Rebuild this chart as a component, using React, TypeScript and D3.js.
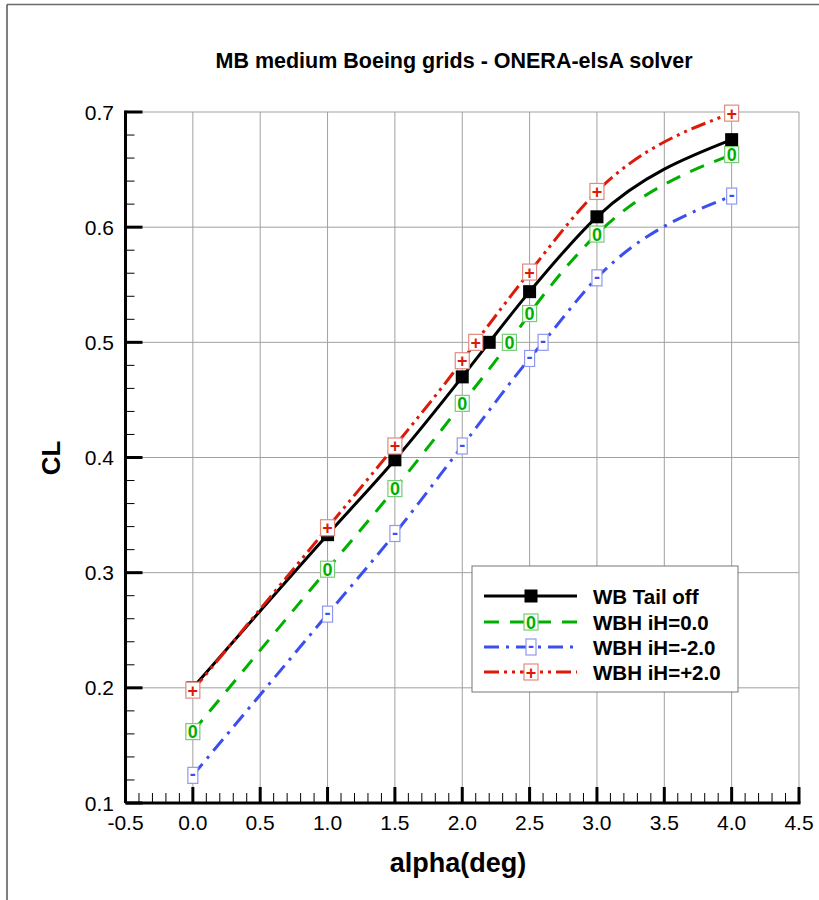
import React from "react";
import * as d3 from "d3";

const alphaWB = [0, 1, 1.5, 2, 2.2, 2.5, 3, 4];
const clWB = [0.2, 0.333, 0.398, 0.47, 0.5, 0.544, 0.609, 0.676];
const alphaH0 = [0, 1, 1.5, 2, 2.35, 2.5, 3, 4];
const clH0 = [0.162, 0.303, 0.373, 0.447, 0.5, 0.525, 0.594, 0.663];
const alphaHm2 = [0, 1, 1.5, 2, 2.5, 2.6, 3, 4];
const clHm2 = [0.124, 0.264, 0.334, 0.41, 0.486, 0.5, 0.556, 0.627];
const alphaHp2 = [0, 1, 1.5, 2, 2.1, 2.5, 3, 4];
const clHp2 = [0.198, 0.339, 0.41, 0.484, 0.5, 0.561, 0.631, 0.699];

const seriesNames = ["WB Tail off", "WBH iH=0.0", "WBH iH=-2.0", "WBH iH=+2.0"];
const xTicks = [-0.5, 0, 0.5, 1, 1.5, 2, 2.5, 3, 3.5, 4, 4.5];
const yTicks = [0.1, 0.2, 0.3, 0.4, 0.5, 0.6, 0.7];

const title = "MB medium Boeing grids - ONERA-elsA solver";
const xLabel = "alpha(deg)";
const yLabel = "CL";

const FONT = "'Liberation Sans', Arial, Helvetica, sans-serif";

type Style = {
  color: string;
  dash: string | null;
  marker: "filled" | string;
  boxColor: string;
  boxW: number;
};

const styles: Style[] = [
  { color: "#000000", dash: null, marker: "filled", boxColor: "#000", boxW: 12 },
  { color: "#00b000", dash: "15,11", marker: "0", boxColor: "#77cc77", boxW: 14 },
  { color: "#3b4ff0", dash: "15,7,3,7", marker: "-", boxColor: "#8f99f0", boxW: 10 },
  { color: "#dd1a0a", dash: "15,5,3,5,3,5", marker: "+", boxColor: "#e08a80", boxW: 14 },
];

const series = [
  { a: alphaWB, c: clWB },
  { a: alphaH0, c: clH0 },
  { a: alphaHm2, c: clHm2 },
  { a: alphaHp2, c: clHp2 },
];

function Marker({ x, y, s }: { x: number; y: number; s: Style }) {
  if (s.marker === "filled") {
    return <rect x={x - 6.5} y={y - 6.5} width={13} height={13} fill="#000" />;
  }
  const w = s.boxW;
  const h = 16;
  return (
    <g>
      <rect x={x - w / 2} y={y - h / 2} width={w} height={h} fill="#fff" stroke={s.boxColor} strokeWidth={1.2} />
      <text
        x={x}
        y={y + (s.marker === "-" ? 5 : 6.5)}
        textAnchor="middle"
        fontFamily={FONT}
        fontWeight="bold"
        fontSize={18}
        fill={s.color}
      >
        {s.marker}
      </text>
    </g>
  );
}

export default function App() {
  const W = 819;
  const H = 900;
  const x = d3.scaleLinear().domain([-0.5, 4.5]).range([125.5, 799]);
  const y = d3.scaleLinear().domain([0.1, 0.7]).range([803, 112]);

  const xMinor = d3.range(-0.5, 4.5001, 0.1).map((v) => +v.toFixed(2));
  const yMinor = d3.range(0.1, 0.7001, 0.02).map((v) => +v.toFixed(2));

  const line = d3
    .line<[number, number]>()
    .x((d) => x(d[0]))
    .y((d) => y(d[1]))
    .curve(d3.curveMonotoneX);

  const legX = 472;
  const legY = 566;
  const legRows = [596, 622, 647, 672];

  return (
    <svg
      width={W}
      height={H}
      style={{ position: "absolute", left: 0, top: 0, background: "#fff" }}
    >
      <rect x={0} y={0} width={W} height={H} fill="#fff" />
      {/* frame */}
      <line x1={7} y1={4.5} x2={W} y2={4.5} stroke="#6a6a6a" strokeWidth={1.5} />
      <line x1={7} y1={4.5} x2={7} y2={H} stroke="#555" strokeWidth={1.5} />

      {/* title */}
      <text
        x={454}
        y={67.5}
        textAnchor="middle"
        fontFamily={FONT}
        fontWeight="bold"
        fontSize={21.5}
        fill="#000"
      >
        {title}
      </text>

      {/* grid */}
      {xTicks.slice(1).map((t) => (
        <line key={"gx" + t} x1={x(t)} x2={x(t)} y1={y(0.7)} y2={y(0.1)} stroke="#a0a0a0" strokeWidth={1} />
      ))}
      {yTicks.slice(1).map((t) => (
        <line key={"gy" + t} x1={x(-0.5)} x2={x(4.5)} y1={y(t)} y2={y(t)} stroke="#a0a0a0" strokeWidth={1} />
      ))}

      {/* series lines */}
      {series.map((sr, i) => {
        const pts = sr.a.map((a, j) => [a, sr.c[j]] as [number, number]);
        return (
          <path
            key={"l" + i}
            d={line(pts) || ""}
            fill="none"
            stroke={styles[i].color}
            strokeWidth={3}
            strokeDasharray={styles[i].dash || undefined}
          />
        );
      })}
      {/* markers */}
      {series.map((sr, i) => (
        <g key={"m" + i}>
          {sr.a.map((a, j) => (
            <Marker key={j} x={x(a)} y={y(sr.c[j])} s={styles[i]} />
          ))}
        </g>
      ))}

      {/* axes */}
      <line x1={x(-0.5)} x2={x(4.5) + 1.5} y1={803} y2={803} stroke="#000" strokeWidth={3} />
      <line x1={x(-0.5)} x2={x(-0.5)} y1={803} y2={y(0.7) - 1.5} stroke="#000" strokeWidth={3} />
      {xMinor.map((t) => (
        <line key={"xm" + t} x1={x(t)} x2={x(t)} y1={803} y2={793} stroke="#000" strokeWidth={1} />
      ))}
      {xTicks.map((t) => (
        <line key={"xM" + t} x1={x(t)} x2={x(t)} y1={803} y2={787} stroke="#000" strokeWidth={3} />
      ))}
      {yMinor.map((t) => (
        <line key={"ym" + t} x1={x(-0.5)} x2={x(-0.5) + 9} y1={y(t)} y2={y(t)} stroke="#000" strokeWidth={1} />
      ))}
      {yTicks.map((t) => (
        <line key={"yM" + t} x1={x(-0.5)} x2={x(-0.5) + 17} y1={y(t)} y2={y(t)} stroke="#000" strokeWidth={3} />
      ))}

      {/* tick labels */}
      {xTicks.map((t) => (
        <text
          key={"xl" + t}
          x={x(t)}
          y={830}
          textAnchor="middle"
          fontFamily={FONT}
          fontSize={21}
          fill="#000"
        >
          {t.toFixed(1)}
        </text>
      ))}
      {yTicks.map((t) => (
        <text
          key={"yl" + t}
          x={114}
          y={y(t) + 7.5}
          textAnchor="end"
          fontFamily={FONT}
          fontSize={21}
          fill="#000"
        >
          {t.toFixed(1)}
        </text>
      ))}

      {/* axis labels */}
      <text x={458} y={872} textAnchor="middle" fontFamily={FONT} fontWeight="bold" fontSize={27} fill="#000">
        {xLabel}
      </text>
      <text
        transform={`translate(60,458) rotate(-90)`}
        textAnchor="middle"
        fontFamily={FONT}
        fontWeight="bold"
        fontSize={26}
        fill="#000"
      >
        {yLabel}
      </text>

      {/* legend */}
      <rect x={legX} y={legY} width={266} height={126} fill="#fff" stroke="#777" strokeWidth={1} />
      {seriesNames.map((name, i) => (
        <g key={"lg" + i}>
          <line
            x1={484}
            x2={577}
            y1={legRows[i]}
            y2={legRows[i]}
            stroke={styles[i].color}
            strokeWidth={3}
            strokeDasharray={styles[i].dash || undefined}
          />
          <Marker x={531} y={legRows[i]} s={styles[i]} />
          <text
            x={593}
            y={legRows[i] + 7.5}
            fontFamily={FONT}
            fontWeight="bold"
            fontSize={20.5}
            fill="#000"
          >
            {name}
          </text>
        </g>
      ))}
    </svg>
  );
}
